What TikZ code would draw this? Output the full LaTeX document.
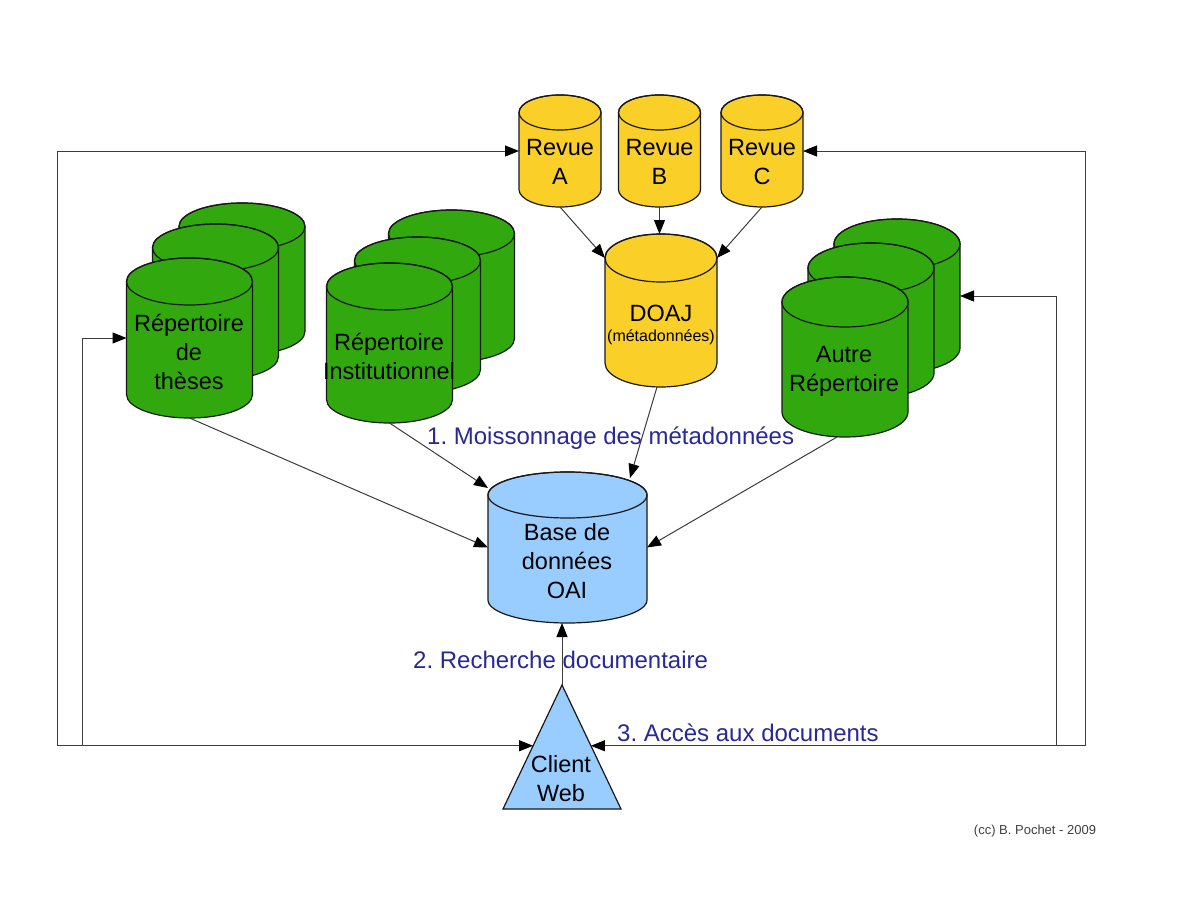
\documentclass[tikz,border=0pt]{standalone}
\usepackage{fontspec}
\setmainfont{Liberation Sans}
\frenchspacing
\usetikzlibrary{arrows.meta,calc}
\definecolor{cyel}{RGB}{250,208,40}
\definecolor{cgrn}{RGB}{50,168,15}
\definecolor{cblu}{RGB}{153,204,255}
\definecolor{ctxt}{RGB}{40,40,150}
\definecolor{outl}{RGB}{25,25,25}
\definecolor{conn}{RGB}{60,60,60}
% cylinder: #1 cx, #2 top (highest point), #3 bottom (lowest point), #4 rx, #5 ry, #6 fill
\newcommand\drawcyl[6]{%
  \pgfmathsetmacro\cylct{#2+#5}%
  \pgfmathsetmacro\cylcb{#3-#5}%
  \path[fill=#6,draw=outl,line width=1.2pt]
    (#1-#4,\cylct) -- (#1-#4,\cylcb)
    .. controls (#1-#4,\cylcb+0.5523*#5) and (#1-0.5523*#4,#3) .. (#1,#3)
    .. controls (#1+0.5523*#4,#3) and (#1+#4,\cylcb+0.5523*#5) .. (#1+#4,\cylcb)
    -- (#1+#4,\cylct)
    .. controls (#1+#4,\cylct-0.5523*#5) and (#1+0.5523*#4,#2) .. (#1,#2)
    .. controls (#1-0.5523*#4,#2) and (#1-#4,\cylct-0.5523*#5) .. cycle;
  \draw[draw=outl,line width=1.2pt] (#1,\cylct) ellipse[x radius=#4, y radius=#5];
}
\begin{document}
\begin{tikzpicture}[x=1pt,y=-1pt,
  body/.style={inner sep=0pt,outer sep=0pt,draw=none,rectangle},
  lbl/.style={font=\fontsize{23.5}{29}\selectfont,align=center,text=black,inner sep=0pt},
  blu/.style={font=\fontsize{24}{28}\selectfont,text=ctxt,anchor=west,inner sep=0pt},
  arr/.style={draw=conn,line width=1pt,-{Triangle[length=14pt,width=11pt,color=black]}},
  arrboth/.style={draw=conn,line width=1pt,{Triangle[length=14pt,width=11pt,color=black]}-{Triangle[length=14pt,width=11pt,color=black]}}
]
\useasboundingbox (0,0) rectangle (1203,902);
\fill[white] (0,0) rectangle (1203,902);

% ---- Revues
\drawcyl{560}{95}{207}{41}{17.5}{cyel}
\drawcyl{659.5}{95}{207}{41}{17.5}{cyel}
\drawcyl{762}{95}{207}{41}{17.5}{cyel}
\node[body,minimum width=82pt,minimum height=112pt] (revA) at (560,151) {};
\node[body,minimum width=82pt,minimum height=112pt] (revB) at (659.5,151) {};
\node[body,minimum width=82pt,minimum height=112pt] (revC) at (762,151) {};
\node[lbl] (revAt) at (560,162) {Revue\\A};
\node[lbl] (revBt) at (659.5,162) {Revue\\B};
\node[lbl] (revCt) at (762,162) {Revue\\C};

% ---- DOAJ
\drawcyl{661}{234}{387}{56}{24}{cyel}
\node[body,minimum width=112pt,minimum height=153pt] (doaj) at (661,310.5) {};
\node[lbl] (doajt) at (661,313) {DOAJ};
\node[lbl,font=\fontsize{16}{18}\selectfont] (doajm) at (661,337) {(métadonnées)};

% ---- Répertoire de thèses
\drawcyl{242}{203}{355}{63}{23.5}{cgrn}
\drawcyl{215.5}{224}{380}{63}{23.5}{cgrn}
\drawcyl{189.5}{258}{418}{63}{23.5}{cgrn}
\node[body,minimum width=126pt,minimum height=160pt] (thes) at (189.5,338) {};
\node[lbl] (thest) at (189,352) {Répertoire\\de\\thèses};

% ---- Répertoire institutionnel
\drawcyl{451.5}{210}{362}{63}{23.5}{cgrn}
\drawcyl{417.5}{237}{393}{63}{23.5}{cgrn}
\drawcyl{389.5}{263}{423}{63}{23.5}{cgrn}
\node[body,minimum width=126pt,minimum height=160pt] (inst) at (389.5,343) {};
\node[lbl] (instt) at (389,356) {Répertoire\\Institutionnel};

% ---- Autre répertoire
\drawcyl{897}{219}{373}{63}{25}{cgrn}
\drawcyl{871}{243}{398}{63}{25}{cgrn}
\drawcyl{845}{277}{437}{63}{25}{cgrn}
\node[body,minimum width=126pt,minimum height=154pt] (autreback) at (897,296) {};
\node[body,minimum width=126pt,minimum height=160pt] (autre) at (845,357) {};
\node[lbl] (autret) at (844,371) {Autre\\Répertoire};

% ---- Base OAI
\drawcyl{567.5}{472}{623}{79.5}{23}{cblu}
\node[body,minimum width=159pt,minimum height=151pt] (oai) at (567.5,547.5) {};
\node[lbl] (oait) at (567,561) {Base de\\données\\OAI};

% ---- Client Web
\node[body,minimum width=118pt,minimum height=124pt] (client) at (562,747) {};
\filldraw[fill=cblu,draw=outl,line width=1.2pt] (client.north) -- (client.south east) -- (client.south west) -- cycle;
\node[lbl] (clientt) at (561,779) {Client\\Web};
\coordinate (clientL) at ($(client.north)!0.49!(client.south west)$);
\coordinate (clientR) at ($(client.north)!0.49!(client.south east)$);

% ---- frame coordinates
\coordinate (bl) at (57,746);
\coordinate (bl2) at (82,746);
\coordinate (br) at (1085,746);
\coordinate (br2) at (1056,746);

% ---- connectors
\draw[arr] (revA.south) -- ([yshift=-24pt]doaj.north west);
\draw[arr] (revB.south) -- (revB.south |- doaj.north);
\draw[arr] (revC.south) -- ([yshift=-24pt]doaj.north east);
\draw[arr] (thes.south) -- (oai.west);
\draw[arr] (inst.south) -- ([yshift=-16pt]oai.north west);
\draw[arr] ([xshift=-4pt]doaj.south) -- ([xshift=-17pt,yshift=-6pt]oai.north east);
\draw[arr] ([xshift=-8pt]autre.south) -- (oai.east);
\draw[arr] (client.north) -- (client.north |- oai.south);

\draw[arrboth] (clientL) -- (clientL -| bl) |- (revA.west);
\draw[arr] (bl2) |- (thes.west);
\draw[arrboth] (clientR) -- (clientR -| br) |- (revC.east);
\draw[arr] (br2) |- (autreback.east);

% ---- labels
\node[blu] (l1) at (427,438) {1. Moissonnage des métadonnées};
\node[blu] (l2) at (413,660) {2. Recherche documentaire};
\node[blu] (l3) at (617,733) {3. Accès aux documents};
\node[font=\fontsize{13}{15}\selectfont,text=black!75,inner sep=0pt] (cc) at (1035,831) {(cc) B. Pochet - 2009};
\end{tikzpicture}
\end{document}
